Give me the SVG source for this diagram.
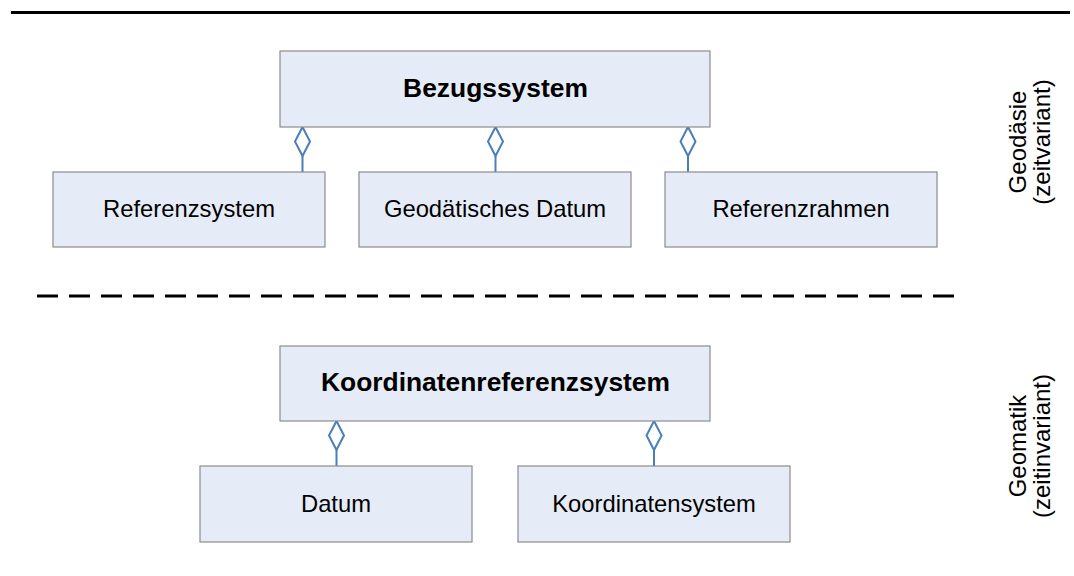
<svg xmlns="http://www.w3.org/2000/svg" width="1074" height="576" viewBox="0 0 1074 576">
  <style>
    .box { fill: #e6ecf7; stroke: #8c8c8c; stroke-width: 1.2; }
    .title { font-family: "Liberation Sans", Arial, sans-serif; font-weight: bold; font-size: 26.4px; fill: #000; text-anchor: middle; }
    .label { font-family: "Liberation Sans", Arial, sans-serif; font-size: 23.8px; fill: #000; text-anchor: middle; }
    .side { font-family: "Liberation Sans", Arial, sans-serif; font-size: 24px; fill: #000; text-anchor: middle; }
    .link { stroke: #4a7ebb; stroke-width: 2; fill: none; }
    .agg { stroke: #4a7ebb; stroke-width: 2; fill: #fff; }
  </style>
  <defs>
    <!-- hollow aggregation diamond, top tip at origin -->
    <path id="diamond" class="agg" d="M0,0 L7.5,14.5 L0,29 L-7.5,14.5 Z"/>
  </defs>
  <rect width="1074" height="576" fill="#fff"/>

  <!-- separators -->
  <line x1="11" y1="12.5" x2="1070" y2="12.5" stroke="#000" stroke-width="3"/>
  <line x1="37" y1="296" x2="955" y2="296" stroke="#000" stroke-width="3" stroke-dasharray="21 11"/>

  <!-- connectors -->
  <g id="connectors">
    <line class="link" x1="302.5" y1="156" x2="302.5" y2="172"/>
    <use href="#diamond" x="302.5" y="127"/>
    <line class="link" x1="495.5" y1="156" x2="495.5" y2="172"/>
    <use href="#diamond" x="495.5" y="127"/>
    <line class="link" x1="688" y1="156" x2="688" y2="172"/>
    <use href="#diamond" x="688" y="127"/>
    <line class="link" x1="336.5" y1="450" x2="336.5" y2="466"/>
    <use href="#diamond" x="336.5" y="421"/>
    <line class="link" x1="654" y1="450" x2="654" y2="466"/>
    <use href="#diamond" x="654" y="421"/>
  </g>

  <g id="bezugssystem">
    <rect class="box" x="280" y="51" width="430" height="76"/>
    <text class="title" x="495.5" y="97">Bezugssystem</text>
  </g>
  <g id="referenzsystem">
    <rect class="box" x="53" y="172" width="272" height="75"/>
    <text class="label" x="189" y="217">Referenzsystem</text>
  </g>
  <g id="geodaetisches-datum">
    <rect class="box" x="359" y="172" width="272" height="75"/>
    <text class="label" x="495" y="217">Geodätisches Datum</text>
  </g>
  <g id="referenzrahmen">
    <rect class="box" x="665" y="172" width="272" height="75"/>
    <text class="label" x="801" y="217">Referenzrahmen</text>
  </g>

  <g id="koordinatenreferenzsystem">
    <rect class="box" x="280" y="346" width="430" height="75"/>
    <text class="title" x="495.5" y="391">Koordinatenreferenzsystem</text>
  </g>
  <g id="datum">
    <rect class="box" x="200" y="466" width="272" height="76"/>
    <text class="label" x="336" y="511.5">Datum</text>
  </g>
  <g id="koordinatensystem">
    <rect class="box" x="518" y="466" width="272" height="76"/>
    <text class="label" x="654" y="511.5">Koordinatensystem</text>
  </g>

  <!-- side captions -->
  <g id="caption-geodaesie">
    <text class="side" transform="translate(1026,142) rotate(-90)">Geodäsie</text>
    <text class="side" transform="translate(1050,142) rotate(-90)">(zeitvariant)</text>
  </g>
  <g id="caption-geomatik">
    <text class="side" transform="translate(1026,446) rotate(-90)">Geomatik</text>
    <text class="side" transform="translate(1050,446) rotate(-90)">(zeitinvariant)</text>
  </g>
</svg>
